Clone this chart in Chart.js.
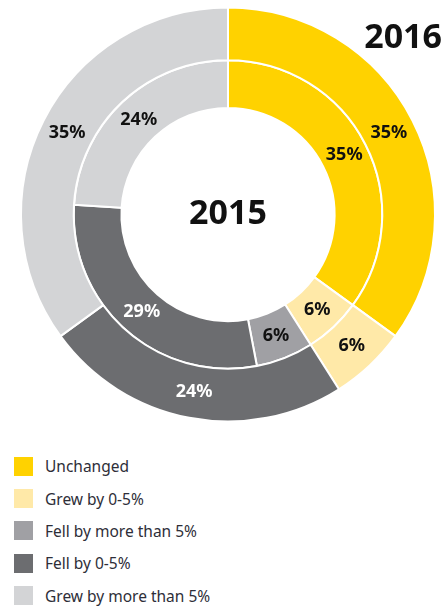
<!DOCTYPE html>
<html>
<head>
<meta charset="utf-8">
<script src="https://cdn.jsdelivr.net/npm/chart.js@4"></script>
<style>
    body { margin: 0; background: #fff; width: 442px; height: 608px; overflow: hidden; position: relative; font-family: "Noto Sans", sans-serif; }
    #wrap { position: absolute; left: 0; top: 0; width: 442px; height: 430px; }
    #legend { position: absolute; left: 14px; top: 450px; }
    .item { height: 32.4px; display: flex; align-items: center; font-size: 15.5px; color: #2e2e38; }
    .box { width: 19px; height: 19px; margin-right: 12px; }
</style>
</head>
<body>
<div id="wrap"><canvas id="chart"></canvas></div>
<div id="legend"></div>
<script>
var categorias = ['Unchanged', 'Grew by 0-5%', 'Fell by more than 5%', 'Fell by 0-5%', 'Grew by more than 5%'];
var datos2016 = [35, 6, 0, 24, 35];
var datos2015 = [35, 6, 6, 29, 24];
var colores = ['#FFD200', '#FFE9A8', '#A0A0A4', '#6C6D70', '#D3D4D6'];
var coloresTexto = ['#111', '#111', '#111', '#fff', '#111'];

// etiquetas de porcentaje sobre cada arco
var etiquetasPlugin = {
    id: 'etiquetas',
    afterDatasetsDraw: function (chart) {
        var ctx = chart.ctx;
        ctx.save();
        ctx.font = 'bold 18px "Noto Sans"';
        ctx.textAlign = 'center';
        ctx.textBaseline = 'middle';
        chart.data.datasets.forEach(function (ds, i) {
            chart.getDatasetMeta(i).data.forEach(function (arc, j) {
                if (!ds.data[j]) return;
                var p = arc.tooltipPosition();
                ctx.fillStyle = coloresTexto[j];
                ctx.fillText(ds.data[j] + '%', p.x, p.y);
            });
        });
        // titulos de los anillos
        var m = chart.getDatasetMeta(0).data[0];
        ctx.font = 'bold 34px "Noto Sans"';
        ctx.fillStyle = '#111';
        ctx.fillText('2015', m.x, m.y);
        ctx.textAlign = 'right';
        ctx.fillText('2016', 442, 38);
        ctx.restore();
    }
};

var ctx = document.getElementById('chart').getContext('2d');
window.chart = new Chart(ctx, {
    type: 'doughnut',
    data: {
        labels: categorias,
        datasets: [{
            label: '2016',
            data: datos2016,
            backgroundColor: colores,
            borderColor: '#fff',
            borderWidth: 2,
            weight: 52
        }, {
            label: '2015',
            data: datos2015,
            backgroundColor: colores,
            borderColor: '#fff',
            borderWidth: 2,
            weight: 47
        }]
    },
    options: {
        responsive: true,
        maintainAspectRatio: false,
        animation: false,
        cutout: '51.5%',
        layout: { padding: { left: 20, right: 6, top: 6.5, bottom: 7.5 } },
        plugins: {
            legend: { display: false },
            tooltip: { enabled: false }
        }
    },
    plugins: [etiquetasPlugin]
});

var legend = document.getElementById('legend');
categorias.forEach(function (c, i) {
    var div = document.createElement('div');
    div.className = 'item';
    div.innerHTML = '<span class="box" style="background:' + colores[i] + '"></span>' + c;
    legend.appendChild(div);
});
</script>
</body>
</html>
